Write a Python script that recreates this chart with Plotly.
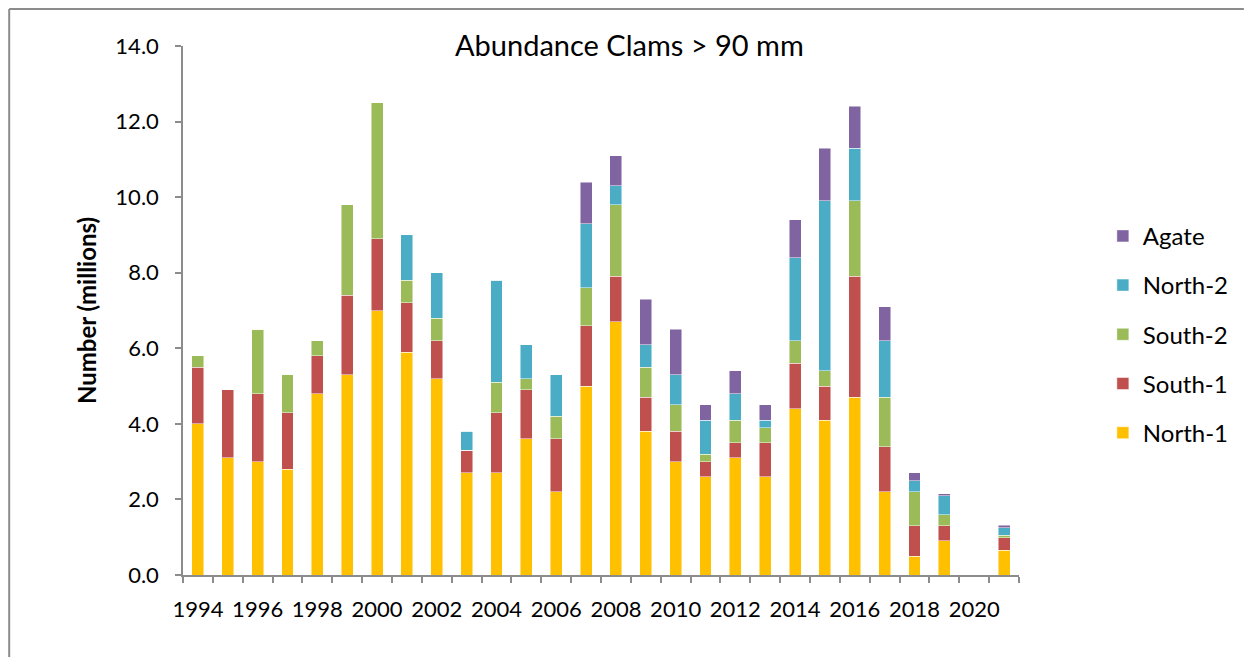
import plotly.graph_objects as go

years = list(range(1994, 2022))
north1 = [4.0, 3.1, 3.0, 2.8, 4.8, 5.3, 7.0, 5.9, 5.2, 2.7, 2.7, 3.6, 2.2, 5.0, 6.7, 3.8, 3.0, 2.6, 3.1, 2.6, 4.4, 4.1, 4.7, 2.2, 0.5, 0.9, 0.0, 0.66]
south1 = [1.5, 1.8, 1.8, 1.5, 1.0, 2.1, 1.9, 1.3, 1.0, 0.6, 1.6, 1.3, 1.4, 1.6, 1.2, 0.9, 0.8, 0.4, 0.4, 0.9, 1.2, 0.9, 3.2, 1.2, 0.8, 0.4, 0.0, 0.33]
south2 = [0.3, 0.0, 1.7, 1.0, 0.4, 2.4, 3.6, 0.6, 0.6, 0.0, 0.8, 0.3, 0.6, 1.0, 1.9, 0.8, 0.7, 0.2, 0.6, 0.4, 0.6, 0.4, 2.0, 1.3, 0.9, 0.3, 0.0, 0.06]
north2 = [0.0, 0.0, 0.0, 0.0, 0.0, 0.0, 0.0, 1.2, 1.2, 0.5, 2.7, 0.9, 1.1, 1.7, 0.5, 0.6, 0.8, 0.9, 0.7, 0.2, 2.2, 4.5, 1.4, 1.5, 0.3, 0.5, 0.0, 0.2]
agate = [0.0, 0.0, 0.0, 0.0, 0.0, 0.0, 0.0, 0.0, 0.0, 0.0, 0.0, 0.0, 0.0, 1.1, 0.8, 1.2, 1.2, 0.4, 0.6, 0.4, 1.0, 1.4, 1.1, 0.9, 0.2, 0.05, 0.0, 0.07]

series = [
    ("North-1", north1, "#FFC000"),
    ("South-1", south1, "#C0504D"),
    ("South-2", south2, "#9BBB59"),
    ("North-2", north2, "#4BACC6"),
    ("Agate", agate, "#8064A2"),
]

FONT = "Lato"

fig = go.Figure()
n = len(series)
for i, (name, vals, col) in enumerate(series):
    fig.add_trace(go.Bar(
        x=years, y=vals, name=name, legendgroup=name, legendrank=n - i,
        marker=dict(color=col, line=dict(color="rgba(255,255,255,0.6)", width=0.8)),
    ))

# the page body has an 8px margin; size/offset the figure so it fits the window
# without overflow and the plot area lands where the reference has it
fig.update_layout(
    barmode="stack",
    bargap=0.6,
    width=1237, height=649,
    margin=dict(l=175, r=225, t=38, b=82),
    paper_bgcolor="white", plot_bgcolor="white",
    font=dict(family=FONT, size=22, color="#000000"),
    title=dict(text="Abundance Clams > 90 mm", x=0.534, xanchor="center",
               xref="paper", y=1.0, yref="paper", yanchor="middle",
               font=dict(family=FONT, size=29, color="#000000")),
    legend=dict(traceorder="grouped", x=1.099, xanchor="left", y=0.455, yanchor="middle",
                font=dict(family=FONT, size=24), itemwidth=30,
                tracegroupgap=15, bgcolor="rgba(0,0,0,0)"),
    showlegend=True,
)

fig.update_xaxes(
    range=[1993.5, 2021.5],
    tickmode="array", tickvals=list(range(1994, 2021, 2)),
    ticktext=[str(v) for v in range(1994, 2021, 2)],
    ticks="", showgrid=False, zeroline=False,
    showline=True, linecolor="#8C8C8C", linewidth=1.5,
    tickfont=dict(family=FONT, size=22),
    ticklabelstandoff=14,
    minor=dict(tickmode="linear", tick0=1993.5, dtick=1, ticks="outside",
               ticklen=6, tickcolor="#8C8C8C", tickwidth=1.5, showgrid=False),
)
fig.update_yaxes(
    range=[0, 14], tickmode="linear", tick0=0, dtick=2, tickformat=".1f",
    ticks="outside", ticklen=6, tickcolor="#8C8C8C", tickwidth=1.5,
    showgrid=False, zeroline=False,
    showline=True, linecolor="#8C8C8C", linewidth=1.5,
    tickfont=dict(family=FONT, size=22),
    ticklabelstandoff=12,
    title=dict(text="<b>Number (millions)</b>", font=dict(family=FONT, size=24), standoff=12),
)

# outer chart frame: only the top and left edges are visible in the reference
frame = dict(color="#8C8C8C", width=2)
fig.add_shape(type="line", xref="paper", yref="paper", layer="above",
              x0=-0.2079, x1=1.269, y0=1.0699, y1=1.0699, line=frame)
fig.add_shape(type="line", xref="paper", yref="paper", layer="above",
              x0=-0.2079, x1=-0.2079, y0=1.0699, y1=-0.2, line=frame)

fig.write_html("out.html")
